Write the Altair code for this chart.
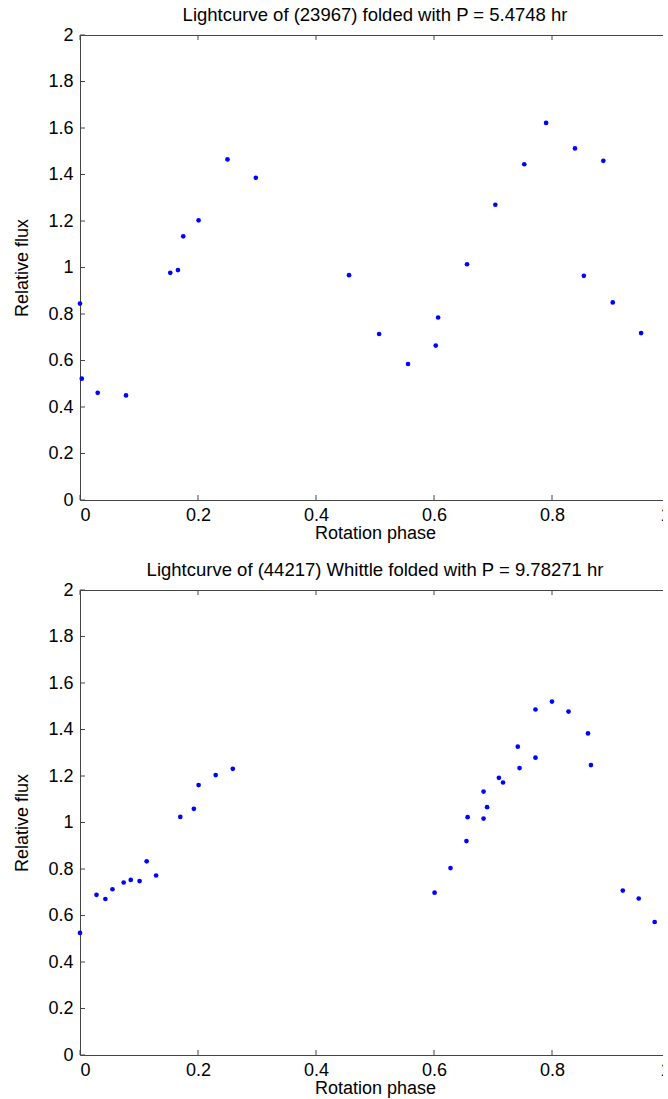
import altair as alt
import pandas as pd

# ---- data ----
top_phase = [0.000, 0.003, 0.030, 0.078, 0.153, 0.166, 0.175, 0.201, 0.250, 0.298,
             0.456, 0.507, 0.556, 0.603, 0.607, 0.656, 0.704, 0.753, 0.790, 0.839,
             0.854, 0.887, 0.903, 0.951]
top_flux = [0.845, 0.522, 0.461, 0.450, 0.977, 0.989, 1.134, 1.203, 1.465, 1.386,
            0.967, 0.714, 0.585, 0.664, 0.785, 1.014, 1.270, 1.444, 1.622, 1.512,
            0.964, 1.459, 0.850, 0.718]

bot_phase = [0.000, 0.028, 0.043, 0.055, 0.074, 0.086, 0.101, 0.113, 0.129, 0.170,
             0.193, 0.201, 0.230, 0.259, 0.601, 0.628, 0.655, 0.657, 0.684, 0.684,
             0.690, 0.710, 0.717, 0.742, 0.745, 0.772, 0.772, 0.800, 0.828, 0.861,
             0.866, 0.920, 0.947, 0.974]
bot_flux = [0.525, 0.689, 0.671, 0.713, 0.742, 0.753, 0.748, 0.833, 0.772, 1.024,
            1.059, 1.161, 1.204, 1.231, 0.698, 0.804, 0.920, 1.023, 1.133, 1.017,
            1.066, 1.192, 1.172, 1.326, 1.234, 1.486, 1.279, 1.520, 1.477, 1.383,
            1.247, 0.707, 0.673, 0.572]

x_ticks = [0, 0.2, 0.4, 0.6, 0.8, 1]
y_ticks = [0, 0.2, 0.4, 0.6, 0.8, 1, 1.2, 1.4, 1.6, 1.8, 2]

top_title = "Lightcurve of (23967) folded with P = 5.4748 hr"
bot_title = "Lightcurve of (44217) Whittle folded with P = 9.78271 hr"

W, H = 590, 465
FONT = "Liberation Sans"
FRAME = "#444444"
TICK = 5


def panel(xs, ys, title):
    df = pd.DataFrame({"phase": xs, "flux": ys})
    xsc = alt.Scale(domain=[0, 1], nice=False, zero=False)
    ysc = alt.Scale(domain=[0, 2], nice=False, zero=False)
    xenc = alt.X("phase:Q", scale=xsc,
                 axis=alt.Axis(values=x_ticks, format="~g", title="Rotation phase"))
    yenc = alt.Y("flux:Q", scale=ysc,
                 axis=alt.Axis(values=y_ticks, format="~g", title="Relative flux"))

    pts = alt.Chart(df).mark_circle(size=22, color="#0000ff", opacity=1).encode(x=xenc, y=yenc)

    xt = pd.DataFrame({"phase": x_ticks})
    yt = pd.DataFrame({"flux": y_ticks})
    rule = dict(color=FRAME, strokeWidth=1)
    xb = alt.Chart(xt).mark_rule(**rule).encode(x=xenc, y=alt.value(H), y2=alt.value(H - TICK))
    xtop = alt.Chart(xt).mark_rule(**rule).encode(x=xenc, y=alt.value(0), y2=alt.value(TICK))
    yl = alt.Chart(yt).mark_rule(**rule).encode(y=yenc, x=alt.value(0), x2=alt.value(TICK))
    yr = alt.Chart(yt).mark_rule(**rule).encode(y=yenc, x=alt.value(W), x2=alt.value(W - TICK))

    return alt.layer(xb, xtop, yl, yr, pts).properties(
        width=W, height=H,
        title=alt.TitleParams(title, font=FONT, fontSize=18.5, fontWeight="normal",
                              color="black", offset=2, anchor="middle"),
    )


chart = alt.vconcat(
    panel(top_phase, top_flux, top_title),
    panel(bot_phase, bot_flux, bot_title),
    spacing=17,
).properties(
    background="white",
    padding={"left": 13, "top": 5, "right": -8, "bottom": 0},
).configure_view(
    stroke=FRAME, strokeWidth=1
).configure_axis(
    domain=False, ticks=False, grid=False,
    labelFont=FONT, labelFontSize=18, labelColor="black",
    titleFont=FONT, titleFontSize=18, titleColor="black", titleFontWeight="normal",
).configure_axisX(
    labelPadding=6, titlePadding=0,
).configure_axisY(
    labelPadding=7, titlePadding=16,
)

chart.save("out.html", embed_options={"renderer": "svg", "actions": False})
